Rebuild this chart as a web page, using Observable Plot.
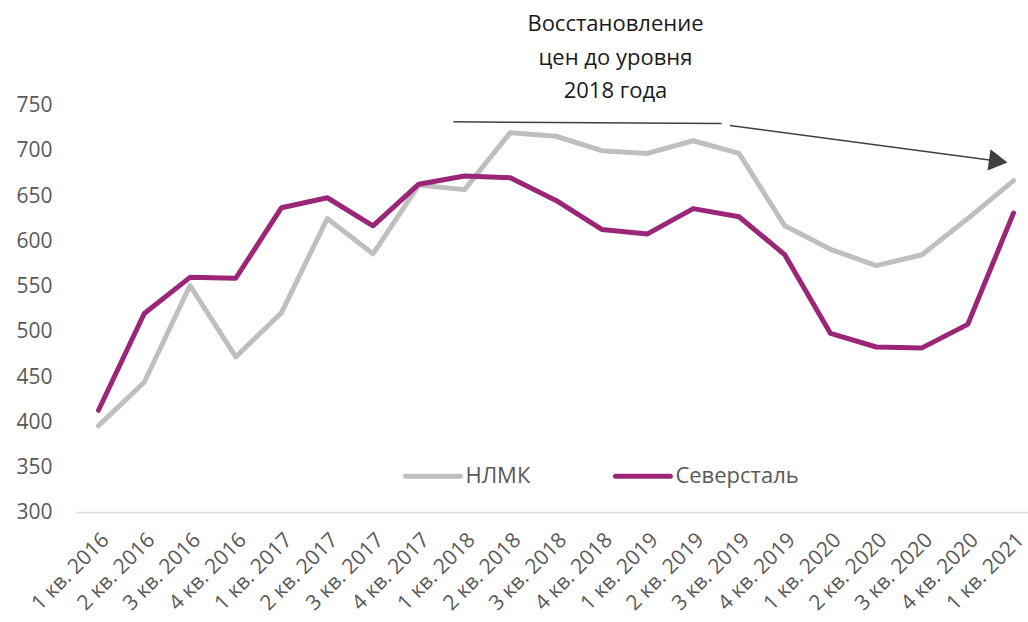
<!DOCTYPE html>
<html><head><meta charset="utf-8">
<script src="https://cdn.jsdelivr.net/npm/d3@7"></script>
<script src="https://cdn.jsdelivr.net/npm/@observablehq/plot@0.6"></script>
<style>body{margin:0;background:#fff;font-family:"Open Sans",sans-serif}</style>
</head><body><div id="chart"></div>
<script>
const quarters = ["1 кв. 2016","2 кв. 2016","3 кв. 2016","4 кв. 2016","1 кв. 2017","2 кв. 2017","3 кв. 2017","4 кв. 2017","1 кв. 2018","2 кв. 2018","3 кв. 2018","4 кв. 2018","1 кв. 2019","2 кв. 2019","3 кв. 2019","4 кв. 2019","1 кв. 2020","2 кв. 2020","3 кв. 2020","4 кв. 2020","1 кв. 2021"];
const nlmk = [396,444,551,472,521,625,586,662,657,720,716,700,697,711,697,617,591,573,585,625,667];
const severstal = [413,520,560,559,637,648,617,663,672,670,645,613,608,636,627,585,498,483,482,508,631];
const seriesNames = ["НЛМК","Северсталь"];
const colors = ["#bfbfbf","#9b2576"];
const yTicks = [300,350,400,450,500,550,600,650,700,750];
const annotationText = "Восстановление\nцен до уровня\n2018 года";
// annotation geometry in data units (quarter index, value)
const annoLine = [{x1:7.76,y1:732,x2:13.62,y2:730}];
const annoArrow = [{x1:13.8,y1:728,x2:19.6,y2:689}];
const legendY = 340;
const legendItems = [{x1:6.71,x2:7.91,tx:8.02},{x1:11.3,x2:12.5,tx:12.61}];

const rows = [];
quarters.forEach((q,i)=>{ rows.push({i, q, v:nlmk[i], s:seriesNames[0]}); });
quarters.forEach((q,i)=>{ rows.push({i, q, v:severstal[i], s:seriesNames[1]}); });

const chart = Plot.plot({
  width:1028, height:622,
  marginLeft:76, marginRight:15, marginTop:105, marginBottom:110,
  style:{fontFamily:'"Open Sans",sans-serif', fontSize:"22px", color:"#595959", background:"#fff"},
  x:{type:"linear", domain:[0,20], range:[98,1013]},
  y:{domain:[300,750]},
  color:{domain:seriesNames, range:colors},
  marks:[
    Plot.ruleY([300],{stroke:"#d9d9d9", strokeWidth:1.5, x1:-0.48, x2:20.5}),
    Plot.axisY({ticks:yTicks, tickSize:0, tickPadding:24, fontSize:21, fill:"#595959", label:null}),
    Plot.axisX({ticks:d3.range(0,21), tickFormat:i=>quarters[i], tickSize:0, tickRotate:-45, tickPadding:6, dx:7, dy:18, fontSize:21, fill:"#595959", label:null}),
    Plot.line(rows,{x:"i", y:"v", z:"s", stroke:"s", strokeWidth:5, strokeLinejoin:"round", strokeLinecap:"round"}),
    Plot.link(annoLine,{x1:"x1",y1:"y1",x2:"x2",y2:"y2", stroke:"#404040", strokeWidth:1.5}),
    Plot.link(annoArrow,{x1:"x1",y1:"y1",x2:"x2",y2:"y2", stroke:"#404040", strokeWidth:1.5}),
    Plot.dot(annoArrow,{x:"x2", y:"y2", symbol:"triangle", r:8, fill:"#404040", rotate:98}),
    Plot.text([annotationText],{x:11.3, y:807, text:d=>d, fontSize:22, fill:"#1a1a1a", lineHeight:1.52, textAnchor:"middle", frameAnchor:"middle"}),
    Plot.link(legendItems,{x1:"x1", x2:"x2", y1:legendY, y2:legendY, stroke:(d,i)=>seriesNames[i], strokeWidth:5, strokeLinecap:"round"}),
    Plot.text(legendItems,{x:"tx", y:legendY, text:(d,i)=>seriesNames[i], textAnchor:"start", fontSize:22, fill:"#595959"})
  ]
});
document.getElementById("chart").appendChild(chart);
</script></body></html>
